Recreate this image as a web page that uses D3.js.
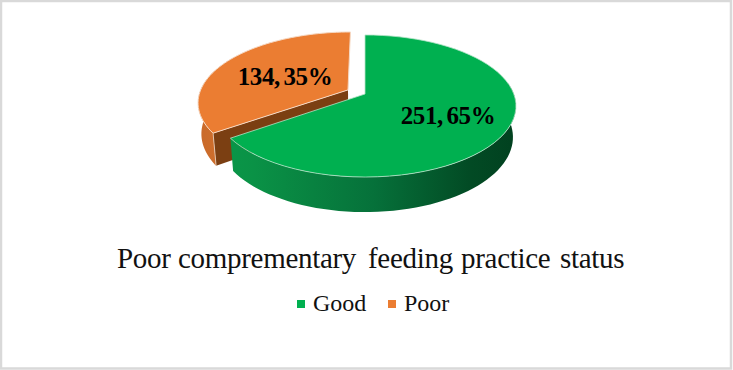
<!DOCTYPE html>
<html>
<head>
<meta charset="utf-8">
<script src="https://cdn.jsdelivr.net/npm/d3@7"></script>
<style>
  html, body { margin: 0; padding: 0; background: #fff; }
  svg { display: block; font-family: "Liberation Serif", serif; }
</style>
</head>
<body>
<svg id="chart" width="733" height="370"></svg>
<script>
// chart data
const categories = ["Good", "Poor"];
const counts = [251, 134];
const percents = [65, 35];
const colors = ["#00b050", "#eb7d32"];
const titleWords = ["Poor", "comprementary", "feeding", "practice", "status"];

// pie geometry (tilted disc with a little perspective)
const centerX = 365;
const centerY = 94;
const radiusX = 148.8;
const radiusY = 69;
const persp = 0.169;      // perspective strength
const depth = 30.5;       // thickness of the disc
const bottomScale = 0.98; // the lower face is a bit further away
const explode = 0.13;     // how far the Poor slice is pulled out

const svg = d3.select("#chart");

// frame round the picture
svg.append("rect")
  .attr("x", 1).attr("y", 1)
  .attr("width", 730).attr("height", 367.5)
  .attr("fill", "#fff")
  .attr("stroke", "#d9d9d9")
  .attr("stroke-width", 2.5);

const defs = svg.append("defs");

function addGradient(id, stops) {
  const g = defs.append("linearGradient").attr("id", id)
    .attr("gradientUnits", "userSpaceOnUse")
    .attr("x1", 195).attr("x2", 520).attr("y1", 0).attr("y2", 0);
  stops.forEach(s => g.append("stop").attr("offset", s[0]).attr("stop-color", s[1]));
}
addGradient("greenSide", [[0, "#0a9a4a"], [0.18, "#0a9246"], [0.55, "#06713a"], [0.85, "#024a24"], [1, "#01401f"]]);
addGradient("orangeSide", [[0, "#c8692a"], [0.08, "#cf6f2c"], [1, "#8a4512"]]);

/**
 * Project a point of the pie plane to the screen
 * a: angle, r: 1 at the rim, level: 0 top face, 1 bottom face, off: slice offset
 */
function project(a, r, level, off) {
  const u = r * Math.sin(a) + off[0];
  const v = -r * Math.cos(a) + off[1];
  const w = 1 - persp * v;
  const s = level ? bottomScale : 1;
  return [
    centerX + s * radiusX * u / w,
    centerY + s * radiusY * v / w + level * depth / w
  ];
}

function arcPoints(a0, a1, level, off) {
  return d3.range(0, 61).map(i => project(a0 + (a1 - a0) * i / 60, 1, level, off));
}

const line = d3.line();

const slices = d3.pie().sort(null)(counts).map((d, i) => {
  const mid = (d.startAngle + d.endAngle) / 2;
  const e = i === 1 ? explode : 0;
  return {
    start: d.startAngle,
    end: d.endAngle,
    off: [e * Math.sin(mid), -e * Math.cos(mid)],
    color: colors[i]
  };
});
const good = slices[0];
const poor = slices[1];

// Poor slice: outer wall, inner wall, top
svg.append("path")
  .attr("d", line(arcPoints(poor.start, poor.start + 1.2, 0, poor.off)
    .concat(arcPoints(poor.start, poor.start + 1.2, 1, poor.off).reverse())) + "Z")
  .attr("fill", "url(#orangeSide)");

svg.append("path")
  .attr("d", line([
    project(0, 0, 0, poor.off),
    project(poor.start, 1, 0, poor.off),
    project(poor.start, 1, 1, poor.off),
    project(0, 0, 1, poor.off)
  ]) + "Z")
  .attr("fill", "#7b3f12");

// light bevel on the corner of the pulled out slice
svg.append("path")
  .attr("d", line([project(poor.start, 1, 0, poor.off), project(poor.start, 1, 1, poor.off)]))
  .attr("fill", "none")
  .attr("stroke", "#f0d6c2")
  .attr("stroke-width", 0.8);

svg.append("path")
  .attr("d", line([project(0, 0, 0, poor.off)].concat(arcPoints(poor.start, poor.end, 0, poor.off))) + "Z")
  .attr("fill", poor.color)
  .attr("stroke", "#f6d9c4")
  .attr("stroke-width", 1)
  .attr("stroke-linejoin", "round");

// Good slice: outer wall, top
svg.append("path")
  .attr("d", line(arcPoints(Math.PI * 0.45, good.end, 0, good.off)
    .concat(arcPoints(Math.PI * 0.45, good.end, 1, good.off).reverse())) + "Z")
  .attr("fill", "url(#greenSide)");

svg.append("path")
  .attr("d", line([project(0, 0, 0, good.off)].concat(arcPoints(good.start, good.end, 0, good.off))) + "Z")
  .attr("fill", good.color)
  .attr("stroke", "#b5e3c8")
  .attr("stroke-width", 0.8)
  .attr("stroke-linejoin", "round");

// data labels
const labelPos = [[448, 124], [285, 85]];
svg.selectAll("text.label")
  .data(categories)
  .join("text")
  .attr("class", "label")
  .attr("x", (d, i) => labelPos[i][0])
  .attr("y", (d, i) => labelPos[i][1])
  .attr("text-anchor", "middle")
  .attr("font-size", 25)
  .attr("font-weight", "bold")
  .attr("word-spacing", -2.5)
  .attr("letter-spacing", -0.35)
  .attr("fill", "#000")
  .text((d, i) => counts[i] + ", " + percents[i] + "%");

// title, the words are spaced unevenly in the original
const titleX = [117, 178, 368, 461, 560];
svg.selectAll("text.title")
  .data(titleWords)
  .join("text")
  .attr("class", "title")
  .attr("x", (d, i) => titleX[i])
  .attr("y", 268)
  .attr("font-size", 29)
  .attr("letter-spacing", -0.3)
  .attr("fill", "#111")
  .text(d => d);

// legend
const legendX = [297, 388];
const legend = svg.selectAll("g.legend")
  .data(categories)
  .join("g")
  .attr("class", "legend")
  .attr("transform", (d, i) => `translate(${legendX[i]},300)`);

legend.append("rect")
  .attr("width", 8).attr("height", 8)
  .attr("fill", (d, i) => colors[i]);

legend.append("text")
  .attr("x", 16).attr("y", 10.5)
  .attr("font-size", 24)
  .attr("fill", "#111")
  .text(d => d);
</script>
</body>
</html>
